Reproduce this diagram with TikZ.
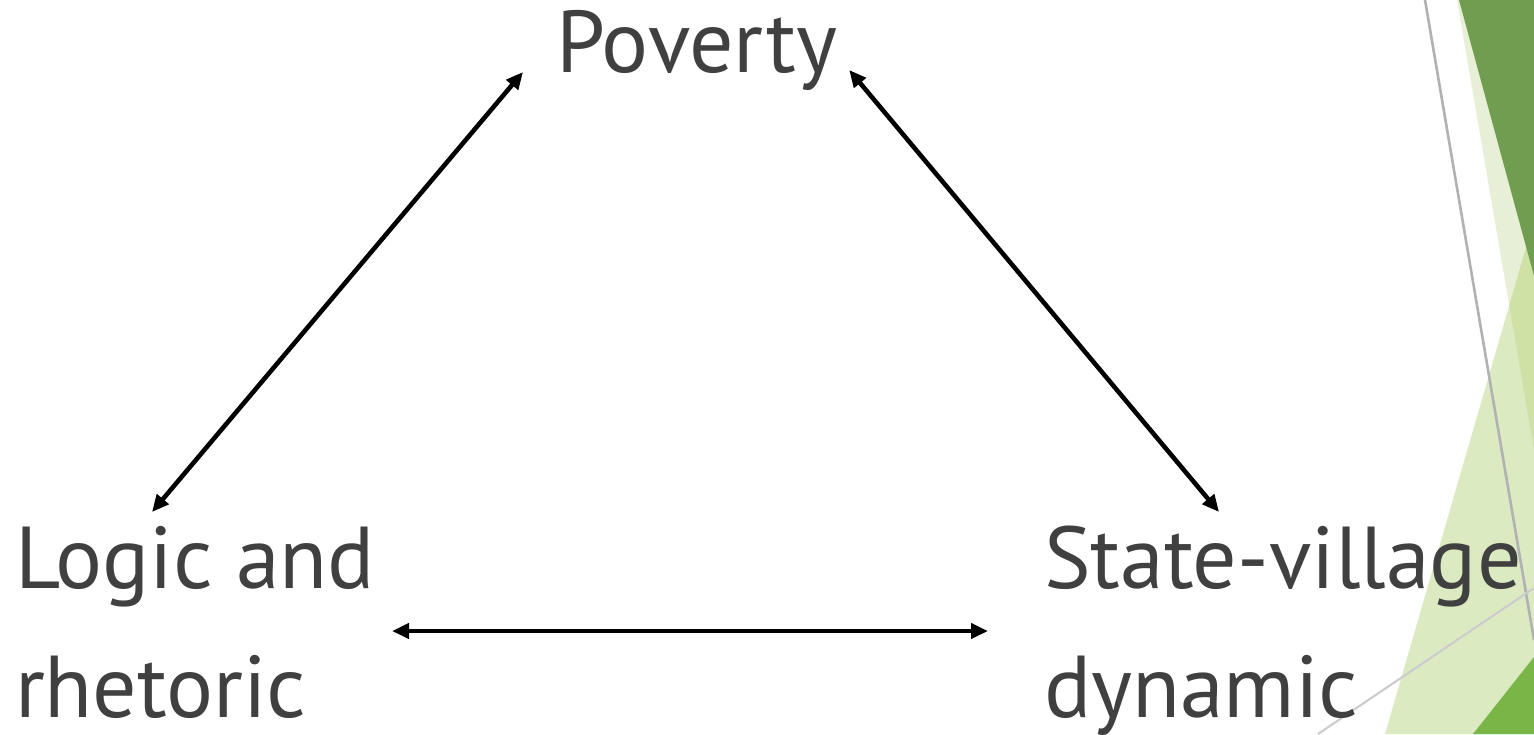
\documentclass[tikz,border=0pt]{standalone}
\usepackage{fontspec}
\setmainfont{PT Sans}
\usepackage{tikz}
\usetikzlibrary{backgrounds}
\usetikzlibrary{arrows.meta}
\definecolor{ink}{HTML}{404040}
\definecolor{facetdark}{HTML}{719D51}
\definecolor{facetstrip}{HTML}{E7F0D7}
\definecolor{facetpale}{HTML}{DCEAC2}
\definecolor{facetmid}{HTML}{CFE2A5}
\definecolor{facetbright}{HTML}{7AB548}
\newcommand{\lblfont}{\fontsize{50}{73.4}\selectfont}
\newcommand{\slidew}{1534}
\newcommand{\slideh}{734}

\begin{document}
\begin{tikzpicture}[x=0.02cm,y=-0.02cm,
    lbl/.style={inner sep=0pt,outer sep=0pt,text=ink,font=\lblfont,align=left},
    twoway/.style={line width=2.6pt,{Triangle[length=0.34cm,width=0.3cm]}-{Triangle[length=0.34cm,width=0.3cm]}}]
    \useasboundingbox (0,0) rectangle (\slidew,\slideh);

    \node (pov) [lbl,anchor=base west] at (556,72) {Poverty};
    \node (logic) [lbl,anchor=base west] at (15,717) {Logic and\\rhetoric};
    \node (state) [lbl,anchor=base west] at (1044,717) {State-village\\dynamic};

    \draw[twoway] ([shift={(-33,0)}]pov.base west)
      -- ([shift={(137,-205)}]logic.base west);
    \draw[twoway] ([shift={(12,-2)}]pov.base east)
      -- ([shift={(175,-205)}]state.base west);
    \draw[twoway] ([shift={(377,-86)}]logic.base west)
      -- ([shift={(-56,-86)}]state.base west);

    \begin{scope}[on background layer]
      \fill[facetstrip] (1457,0) -- (\slidew,0) -- (\slidew,450) -- cycle;
      \fill[facetpale] (1385,\slideh) -- (\slidew,220) -- (\slidew,\slideh) -- cycle;
      \begin{scope}
        \clip (1457,0) -- (\slidew,0) -- (\slidew,450) -- cycle;
        \fill[facetmid] (1385,\slideh) -- (\slidew,220) -- (\slidew,\slideh) -- cycle;
      \end{scope}
      \fill[facetdark] (1459,0) -- (\slidew,0) -- (\slidew,276) -- cycle;
      \fill[facetbright] (1473,\slideh) -- (\slidew,657) -- (\slidew,\slideh) -- cycle;
      \draw[black!30,line width=1.5] (1425,0) -- (\slidew,640);
      \draw[black!20,line width=1.2] (1318,\slideh) -- (\slidew,588);
    \end{scope}
  \end{tikzpicture}
\end{document}
